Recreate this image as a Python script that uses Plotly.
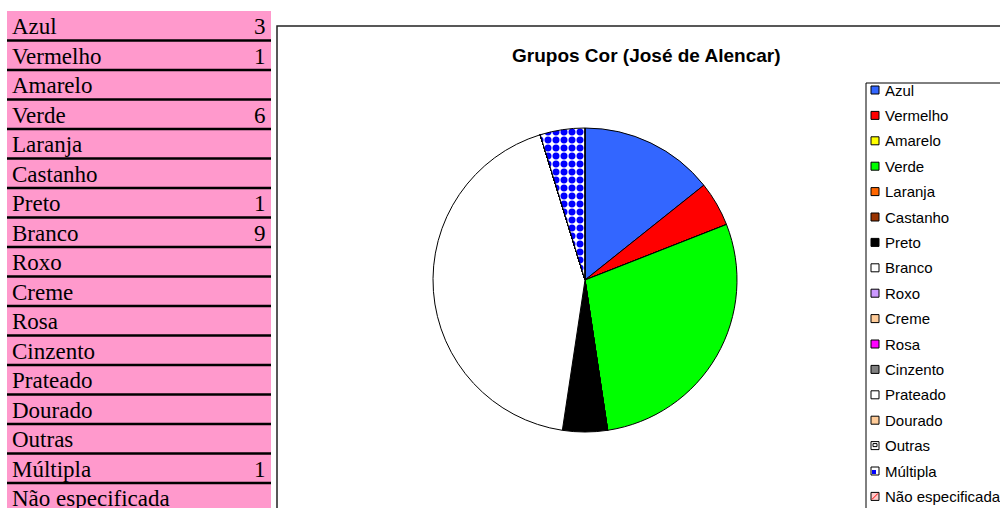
import plotly.graph_objects as go

categories = ['Azul', 'Vermelho', 'Amarelo', 'Verde', 'Laranja', 'Castanho', 'Preto',
              'Branco', 'Roxo', 'Creme', 'Rosa', 'Cinzento', 'Prateado', 'Dourado',
              'Outras', 'Múltipla', 'Não especificada']
counts = [3, 1, None, 6, None, None, 1, 9, None, None, None, None, None, None, None, 1, None]
colors = ['#3366FF', '#FF0000', '#FFFF00', '#00FF00', '#FF6600', '#993300', '#000000',
          '#FFFFFF', '#CC99FF', '#FFCC99', '#FF00FF', '#808080', '#FFFFFF', '#FFCC99',
          '#FFFFFF', '#FFFFFF', '#FFCCCC']
patterns = ['', '', '', '', '', '', '', '', '', '', '', '', '', '', '', '.', '']
title = 'Grupos Cor (José de Alencar)'

W, H = 1000, 508


def px(x):
    return x / W


def py(y):
    return 1 - y / H


fig = go.Figure()

values = [c if c is not None else 0 for c in counts]
fig.add_trace(go.Pie(
    labels=categories, values=values, sort=False, direction='clockwise', rotation=0,
    textinfo='none', hoverinfo='label+value', showlegend=False,
    marker=dict(colors=colors, line=dict(color='black', width=1),
                pattern=dict(shape=patterns, fgcolor='#0000FF', bgcolor='white',
                             size=8, solidity=0.6, fillmode='replace')),
    domain=dict(x=[px(433), px(737)], y=[py(432), py(128)])
))

shapes = []
annotations = []

# spreadsheet block on the left
row_top, row_h = 11, 29.5
shapes.append(dict(type='rect', xref='paper', yref='paper', x0=px(7), x1=px(271),
                   y0=py(row_top), y1=py(H + 20), fillcolor='#FF99CC', line_width=0, layer='below'))
for i, (cat, cnt) in enumerate(zip(categories, counts)):
    yc = row_top + row_h * i + row_h / 2
    annotations.append(dict(x=px(10), y=py(yc + 1), xref='paper', yref='paper', text=cat,
                            showarrow=False, xanchor='left', yanchor='middle',
                            font=dict(family='Liberation Serif', size=23, color='black')))
    if cnt is not None:
        annotations.append(dict(x=px(268), y=py(yc + 1), xref='paper', yref='paper', text=str(cnt),
                                showarrow=False, xanchor='right', yanchor='middle',
                                font=dict(family='Liberation Serif', size=23, color='black')))
    yl = row_top + row_h * (i + 1)
    if yl < H:
        shapes.append(dict(type='line', xref='paper', yref='paper', x0=px(7), x1=px(271),
                           y0=py(yl), y1=py(yl), line=dict(color='black', width=2.5)))

# chart frame
shapes.append(dict(type='rect', xref='paper', yref='paper', x0=px(277), x1=px(W + 20),
                   y0=py(26), y1=py(H + 20), line=dict(color='#222222', width=1.5)))
annotations.append(dict(x=px(646), y=py(55), xref='paper', yref='paper', text='<b>' + title + '</b>',
                        showarrow=False, xanchor='center', yanchor='middle',
                        font=dict(family='Liberation Sans', size=19, color='black')))

# legend box
shapes.append(dict(type='rect', xref='paper', yref='paper', x0=px(866), x1=px(W + 20),
                   y0=py(83), y1=py(H + 20), line=dict(color='black', width=1)))
leg_y0, leg_dy = 90, 25.4
for i, (cat, col) in enumerate(zip(categories, colors)):
    yc = leg_y0 + leg_dy * i
    shapes.append(dict(type='rect', xref='paper', yref='paper', x0=px(871), x1=px(879),
                       y0=py(yc + 4), y1=py(yc - 4), fillcolor=col, line=dict(color='black', width=1)))
    annotations.append(dict(x=px(883), y=py(yc), xref='paper', yref='paper', text=cat,
                            showarrow=False, xanchor='left', yanchor='middle',
                            font=dict(family='Liberation Sans', size=15, color='black')))
    if cat == 'Outras':
        shapes.append(dict(type='rect', xref='paper', yref='paper', x0=px(873), x1=px(877),
                           y0=py(yc + 1), y1=py(yc - 2), fillcolor='white', line=dict(color='black', width=1)))
    if cat == 'Múltipla':
        shapes.append(dict(type='rect', xref='paper', yref='paper', x0=px(872), x1=px(876),
                           y0=py(yc + 3), y1=py(yc - 1), fillcolor='#0000FF', line_width=0))
    if cat == 'Não especificada':
        shapes.append(dict(type='line', xref='paper', yref='paper', x0=px(872), x1=px(878),
                           y0=py(yc + 3), y1=py(yc - 3), line=dict(color='#FF0000', width=1)))

fig.update_layout(
    width=W, height=H, margin=dict(l=0, r=0, t=0, b=0),
    paper_bgcolor='white', plot_bgcolor='white',
    shapes=shapes, annotations=annotations, showlegend=False
)

# the page's default body margin would shift the whole figure
fig.write_html('out.html', config={'displayModeBar': False},
               post_script="document.body.style.margin='0';document.body.style.overflow='hidden';")
